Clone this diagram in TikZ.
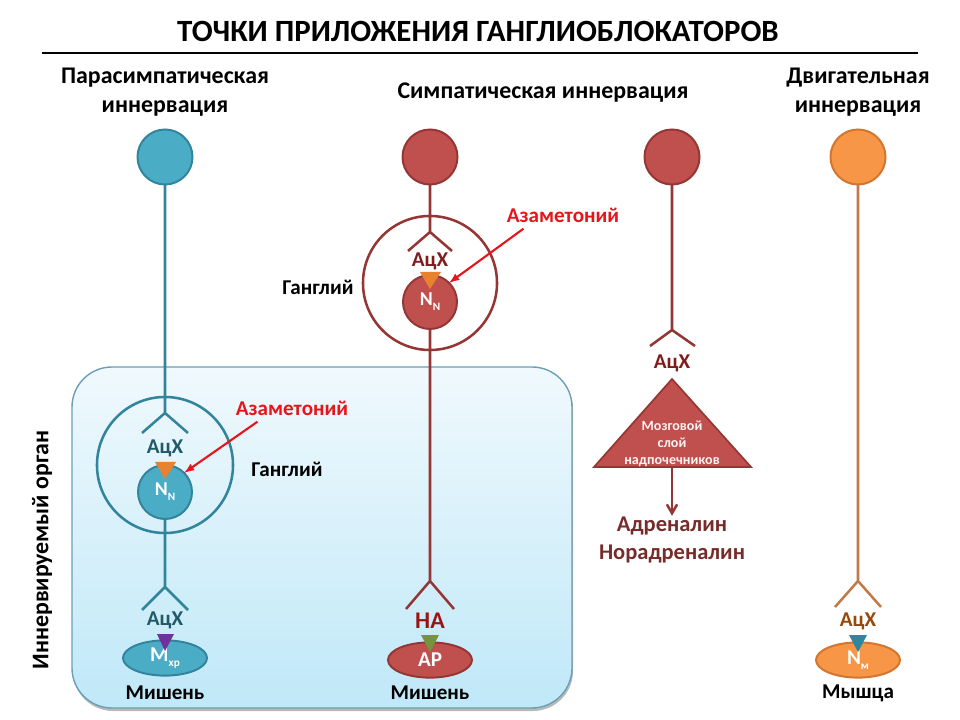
\documentclass[tikz,border=0pt]{standalone}
\usepackage{fontspec}
\setmainfont{Carlito}
\usepackage{xcolor}
\definecolor{paraFill}{HTML}{4BACC6}
\definecolor{paraLine}{HTML}{31849B}
\definecolor{paraText}{HTML}{215968}
\definecolor{symFill}{HTML}{C0504D}
\definecolor{symLine}{HTML}{943634}
\definecolor{symText}{HTML}{7F1D1D}
\definecolor{naText}{HTML}{9A1414}
\definecolor{adrText}{HTML}{772C2C}
\definecolor{motFill}{HTML}{F79646}
\definecolor{motEdge}{HTML}{D3752F}
\definecolor{motLine}{HTML}{C07A4A}
\definecolor{motText}{HTML}{984807}
\definecolor{azRed}{HTML}{E8141B}
\definecolor{boxEdge}{HTML}{6A9FB5}
\definecolor{boxTop}{HTML}{F0F9FD}
\definecolor{boxBottom}{HTML}{BFE8F8}
\definecolor{recOrange}{HTML}{E8822E}
\definecolor{recPurple}{HTML}{7030A0}
\definecolor{recGreen}{HTML}{77933C}
\definecolor{recBlue}{HTML}{31859C}
\usepackage{tikz}
\usetikzlibrary{positioning}
\usetikzlibrary{arrows,shapes}

\begin{document}
\begin{tikzpicture}[x=0.025cm,y=-0.025cm,every node/.style={inner sep=1,outer sep=0,font=\bfseries},
	soma/.style={circle,draw,line width=1.4pt,minimum size=1.375cm,inner sep=0},
	inner soma/.style={circle,draw,line width=1.4pt,minimum size=1.35cm,inner sep=0,text=white},
	ganglion/.style={circle,draw,line width=1.8pt,minimum size=3.4cm,inner sep=0},
	target/.style={ellipse,draw,line width=1.4pt,minimum width=2.1cm,minimum height=0.88cm,inner sep=0,text=white,font=\fontsize{15}{18}\selectfont\bfseries},
	nerve/.style={line width=1.8pt},
	lbl/.style={font=\fontsize{15}{18}\selectfont\bfseries},
	head/.style={font=\fontsize{17}{21}\selectfont\bfseries,align=center},
	azam/.style={lbl,text=azRed},
	pointer/.style={azRed,line width=1.5pt,-latex}]
	\useasboundingbox (0,0) rectangle (960,720);
	% title
	\node (title) at (478,31) {\fontsize{22}{26}\selectfont ТОЧКИ ПРИЛОЖЕНИЯ ГАНГЛИОБЛОКАТОРОВ};
	\coordinate (ruleL) at (42,53);
	\coordinate (ruleR) at (918,53);
	\draw[line width=1.4pt] (ruleL) -- (ruleR);
	\node[head] (hPara) at (165,92) {Парасимпатическая\\иннервация};
	\node[head] (hSym) at (543,93) {Симпатическая иннервация};
	\node[head] (hMot) at (858,92) {Двигательная\\иннервация};

	% innervated organ
	\fill[gray!55,rounded corners=1cm] (73,369) rectangle (573,711);
	\shade[top color=boxTop,bottom color=boxBottom,draw=boxEdge,line width=1pt,rounded corners=1cm] (72,367) rectangle (572,708);
	\node[head,rotate=90] (organ) at (42,550) {Иннервируемый орган};

	% parasympathetic
	\node[soma,fill=paraFill,draw=paraLine] (pS) at (165,157) {};
	\node[ganglion,draw=paraLine] (pG) at (165,465) {};
	\coordinate (pF1) at (165,413);
	\coordinate (pF2) at (165,587);
	\node[inner soma,fill=paraFill,draw=paraLine] (pN) at (165,492) {\fontsize{14}{16}\selectfont N\raisebox{-0.5ex}{\fontsize{8}{9}\selectfont N}};
	\node[target,fill=paraFill,draw=paraLine] (pT) at (165,658) {M\raisebox{-0.5ex}{\fontsize{8}{9}\selectfont хр}};
	\draw[nerve,paraLine] (pS) -- (pF1) (142,433) -- (pF1) -- (188,433);
	\draw[nerve,paraLine] (pN) -- (pF2) (142,610) -- (pF2) -- (188,610);
	\fill[recOrange] (155,462) -- (176,462) -- (165,479) -- cycle;
	\fill[recPurple] (157,634) -- (174,634) -- (165,651) -- cycle;
	\node[lbl,text=paraText] (pA1) at (165,448) {АцХ};
	\node[lbl,text=paraText] (pA2) at (165,620) {АцХ};
	\node[lbl] (pM) at (165,693) {Мишень};
	\node[lbl] (pGl) at (287,469) {Ганглий};
	\node[azam] (pAz) at (292,408) {Азаметоний};
	\draw[pointer] (pAz.south west) ++(23,5) -- (pN.north east);

	% sympathetic
	\node[soma,fill=symFill,draw=symLine] (sS) at (430,157) {};
	\node[ganglion,draw=symLine,minimum size=3.35cm] (sG) at (430,283) {};
	\coordinate (sF1) at (430,232);
	\coordinate (sF2) at (430,581);
	\node[inner soma,fill=symFill,draw=symLine] (sN) at (430,302) {\fontsize{14}{16}\selectfont N\raisebox{-0.5ex}{\fontsize{8}{9}\selectfont N}};
	\node[target,fill=symFill,draw=symLine] (sT) at (430,660) {АР};
	\draw[nerve,symLine] (sS) -- (sF1) (408,251) -- (sF1) -- (452,251);
	\draw[nerve,symLine] (sN) -- (sF2) (406,609) -- (sF2) -- (454,609);
	\fill[recOrange] (420,272) -- (441,272) -- (430,289) -- cycle;
	\fill[recGreen] (421,635) -- (439,635) -- (430,652) -- cycle;
	\node[lbl,text=symText] (sA) at (430,261) {АцХ};
	\node[lbl,text=naText,font=\fontsize{17}{20}\selectfont\bfseries] (sNA) at (430,621) {НА};
	\node[lbl] (sM) at (430,693) {Мишень};
	\node[lbl] (sGl) at (318,287) {Ганглий};
	\node[azam] (sAz) at (563,215) {Азаметоний};
	\draw[pointer] (sAz.south west) ++(18,5) -- (sN.north east);

	% adrenal medulla
	\node[soma,fill=symFill,draw=symLine] (aS) at (672,157) {};
	\coordinate (aF) at (672,330);
	\draw[nerve,symLine] (aS) -- (aF) (650,346) -- (aF) -- (695,346);
	\node[lbl,text=symText] (aA) at (672,363) {АцХ};
	\draw[symLine,fill=symFill,line width=1.2pt] (672,379) -- (751,467) -- (594,467) -- cycle;
	\node[align=center,text=red!5,font=\fontsize{10}{12.2}\selectfont\bfseries] (aMed) at (672,444) {Мозговой\\слой\\надпочечников};
	\coordinate (aBase) at (672,467);
	\node[lbl,text=adrText,align=center,font=\fontsize{16}{17.5}\selectfont\bfseries] (aHorm) at (672,540) {Адреналин\\[2pt]Норадреналин};
	\draw[nerve,symLine,-angle 60] (aBase) -- (aHorm.north);

	% motor
	\node[soma,fill=motFill,draw=motEdge] (mS) at (858,157) {};
	\coordinate (mF) at (858,581);
	\node[target,fill=motFill,draw=motEdge] (mT) at (858,660) {N\raisebox{-0.5ex}{\fontsize{8}{9}\selectfont м}};
	\draw[nerve,motLine] (mS) -- (mF) (835,607) -- (mF) -- (881,607);
	\fill[recBlue] (849,635) -- (867,635) -- (858,652) -- cycle;
	\node[lbl,text=motText] (mA) at (858,621) {АцХ};
	\node[lbl] (mM) at (858,693) {Мышца};
\end{tikzpicture}
\end{document}
